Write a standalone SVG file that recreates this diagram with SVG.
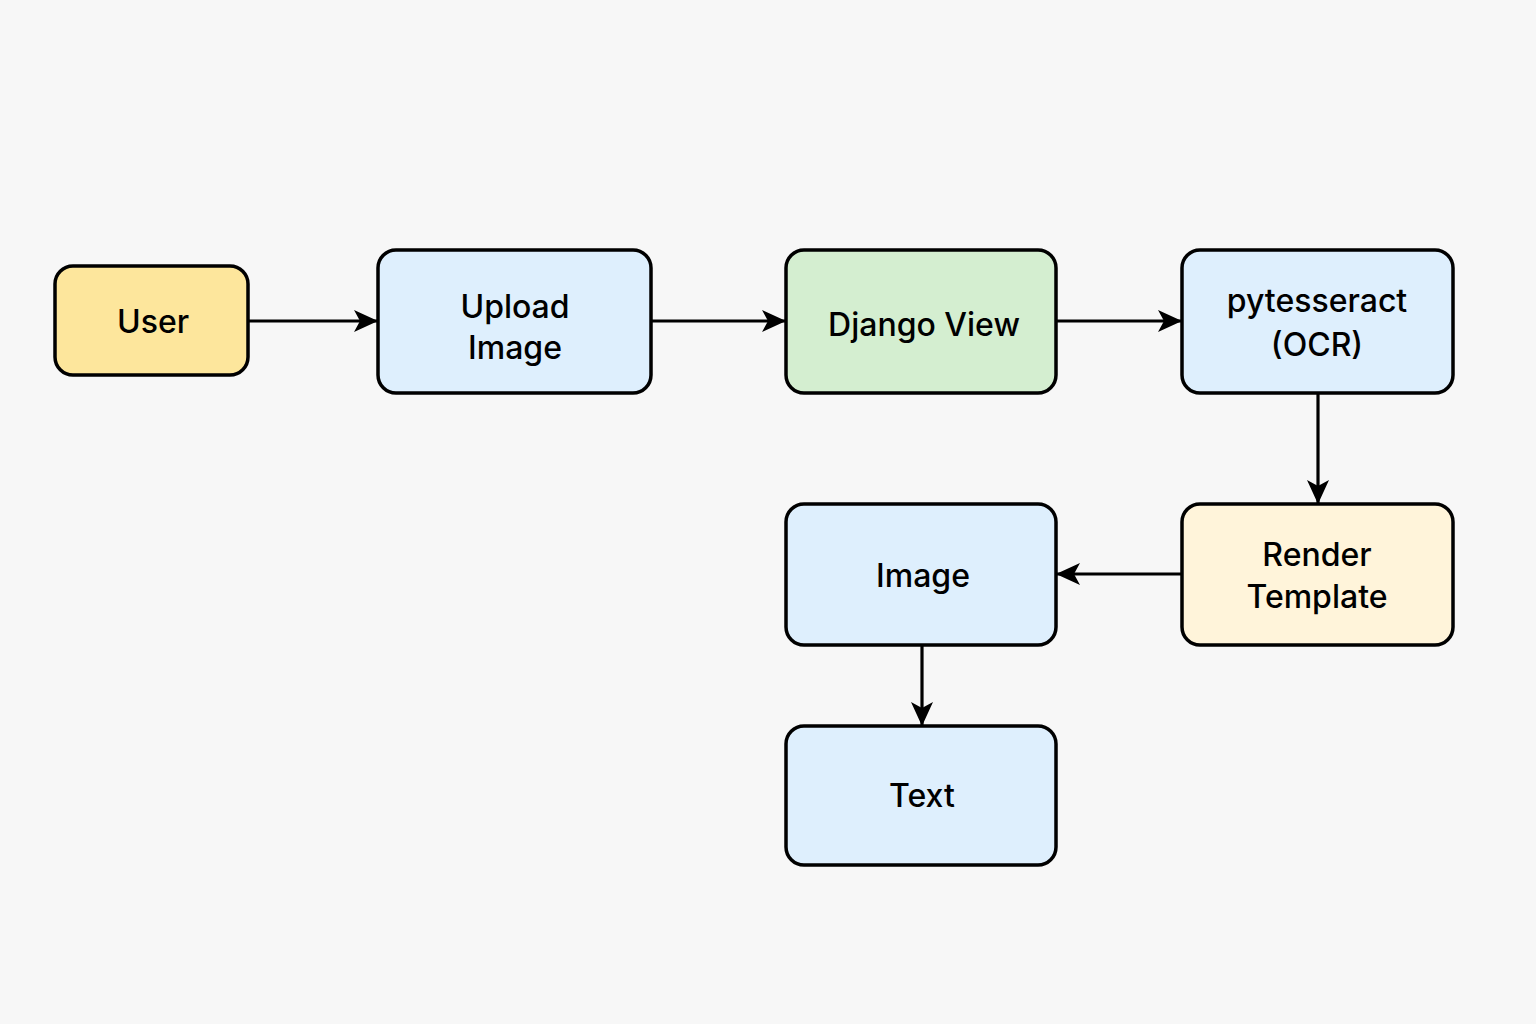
<svg xmlns="http://www.w3.org/2000/svg" width="1536" height="1024" viewBox="0 0 1536 1024">
<style>
.box{stroke:#000;stroke-width:3.5}
.blue{fill:#DEEFFD}
.lbl{font-family:"Inter","Noto Sans","Liberation Sans",sans-serif;font-size:32px;font-weight:500;fill:#000;text-anchor:middle}
.edge{stroke:#000;stroke-width:3.2;fill:none}
</style>
<defs>
<marker id="arr" markerUnits="userSpaceOnUse" markerWidth="24" markerHeight="24" viewBox="0 0 24 24" refX="23" refY="12" orient="auto">
<path d="M0,1 L24,12 L0,23 L6,12 z" fill="#000"/>
</marker>
</defs>
<rect width="1536" height="1024" fill="#F7F7F7"/>
<g id="connectors">
<line class="edge" x1="248" y1="321" x2="377" y2="321" marker-end="url(#arr)"/>
<line class="edge" x1="651" y1="321" x2="785" y2="321" marker-end="url(#arr)"/>
<line class="edge" x1="1056" y1="321" x2="1181" y2="321" marker-end="url(#arr)"/>
<line class="edge" x1="1318" y1="393" x2="1318" y2="503" marker-end="url(#arr)"/>
<line class="edge" x1="1182" y1="574" x2="1057" y2="574" marker-end="url(#arr)"/>
<line class="edge" x1="922" y1="645" x2="922" y2="725" marker-end="url(#arr)"/>
</g>
<g id="user">
<rect class="box" x="55" y="266" width="193" height="109" rx="18" fill="#FDE69C"/>
<text class="lbl" x="153" y="333">User</text>
</g>
<g id="upload">
<rect class="box blue" x="378" y="250" width="273" height="143" rx="18"/>
<text class="lbl" x="515" y="318">Upload</text>
<text class="lbl" x="515" y="359">Image</text>
</g>
<g id="django">
<rect class="box" x="786" y="250" width="270" height="143" rx="18" fill="#D4EED0"/>
<text class="lbl" x="924" y="336">Django View</text>
</g>
<g id="pytesseract">
<rect class="box blue" x="1182" y="250" width="271" height="143" rx="18"/>
<text class="lbl" x="1317" y="312">pytesseract</text>
<text class="lbl" x="1317" y="356">(OCR)</text>
</g>
<g id="render">
<rect class="box" x="1182" y="504" width="271" height="141" rx="18" fill="#FFF4DA"/>
<text class="lbl" x="1317" y="566">Render</text>
<text class="lbl" x="1317" y="608">Template</text>
</g>
<g id="image">
<rect class="box blue" x="786" y="504" width="270" height="141" rx="18"/>
<text class="lbl" x="923" y="587">Image</text>
</g>
<g id="text">
<rect class="box blue" x="786" y="726" width="270" height="139" rx="18"/>
<text class="lbl" x="922" y="807">Text</text>
</g>
</svg>
